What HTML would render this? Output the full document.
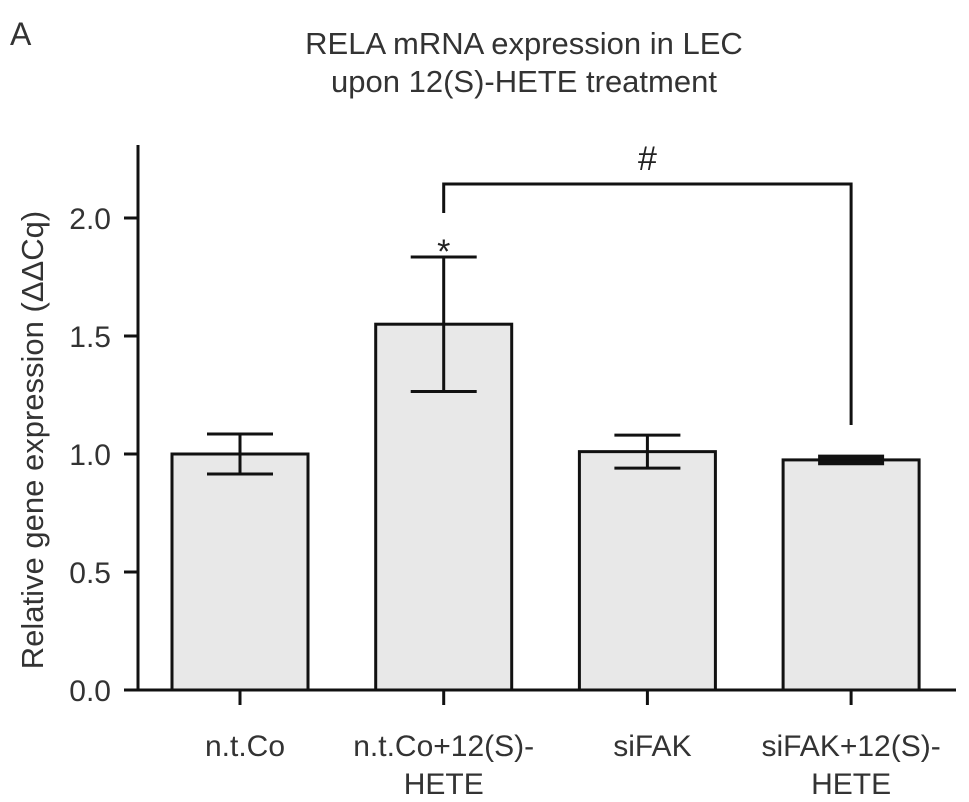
<!DOCTYPE html>
<html><head><meta charset="utf-8"><style>
body{margin:0;background:#fff;}
svg{display:block;font-family:"Liberation Sans",sans-serif;}
</style></head><body>
<svg id="chart" width="969" height="802">
<text x="10" y="45" font-size="32" fill="#333">A</text>
<text x="524" y="54" font-size="31" fill="#333" text-anchor="middle">RELA mRNA expression in LEC</text>
<text x="524" y="92" font-size="31" fill="#333" text-anchor="middle">upon 12(S)-HETE treatment</text>
<text transform="translate(43,440) rotate(-90)" font-size="31" fill="#333" text-anchor="middle">Relative gene expression (ΔΔCq)</text>
</svg>
<script>
const categories=[["n.t.Co"],["n.t.Co+12(S)-","HETE"],["siFAK"],["siFAK+12(S)-","HETE"]];
const values=[1.0,1.55,1.01,0.975];
const errors=[0.085,0.285,0.07,0.012];
const yTicks=[0,0.5,1.0,1.5,2.0];
const yTickLabels=["0.0","0.5","1.0","1.5","2.0"];
const NS="http://www.w3.org/2000/svg";
const svg=document.getElementById('chart');
const y0=690,pxPer=236;
function y(v){return y0-v*pxPer;}
function xc(i){return 240+i*203.7;}
const bw=136;
function el(t,a,parent){const e=document.createElementNS(NS,t);for(const k in a)e.setAttribute(k,a[k]);(parent||svg).appendChild(e);return e;}
let ax=el('line',{x1:138,y1:145,x2:138,y2:y0+1,stroke:'#111','stroke-width':3});


yTicks.forEach((t,i)=>{
 let tk=el('line',{x1:124,x2:138,y1:y(t),y2:y(t),stroke:'#111','stroke-width':3});
 
 
 let tx=el('text',{x:111,y:y(t)+11,'font-size':30,fill:'#333','text-anchor':'end'});
 tx.textContent=yTickLabels[i];
 
 
});
categories.forEach((c,i)=>{
 const cx=xc(i);
 let r=el('rect',{x:cx-bw/2,y:y(values[i]),width:bw,height:y0-y(values[i]),fill:'#e8e8e8',stroke:'#111','stroke-width':3});
 
 
 const thin=errors[i]<0.03;
 let e=el('line',{x1:cx,x2:cx,y1:y(values[i]+errors[i]),y2:y(values[i]-errors[i]),stroke:'#111','stroke-width':thin?9:3});
 
 
 [values[i]+errors[i],values[i]-errors[i]].forEach(v=>{
  let cp=el('line',{x1:cx-33,x2:cx+33,y1:y(v),y2:y(v),stroke:'#111','stroke-width':thin?5:3});
  
  
 });
 let tk=el('line',{x1:cx,x2:cx,y1:y0,y2:y0+15,stroke:'#111','stroke-width':3});
 
 
 c.forEach((s,j)=>{
  let tx=el('text',{x:cx+(i==0?5:i==2?5:0),y:y0+66+j*38,'font-size':30,fill:'#333','text-anchor':'middle'});
  tx.textContent=s;
  
  
 });
});
let xa=el('line',{x1:124,x2:956,y1:y0,y2:y0,stroke:'#111','stroke-width':3});


let st=el('text',{x:xc(1),y:y(values[1]+errors[1])+6,'font-size':34,fill:'#222','text-anchor':'middle'});
st.textContent='*';


let br=el('path',{d:`M${xc(1)} 213 V184 H${xc(3)} V425`,fill:'none',stroke:'#111','stroke-width':3});


let hs=el('text',{x:(xc(1)+xc(3))/2,y:170,'font-size':34,fill:'#222','text-anchor':'middle'});
hs.textContent='#';


</script>
</body></html>
